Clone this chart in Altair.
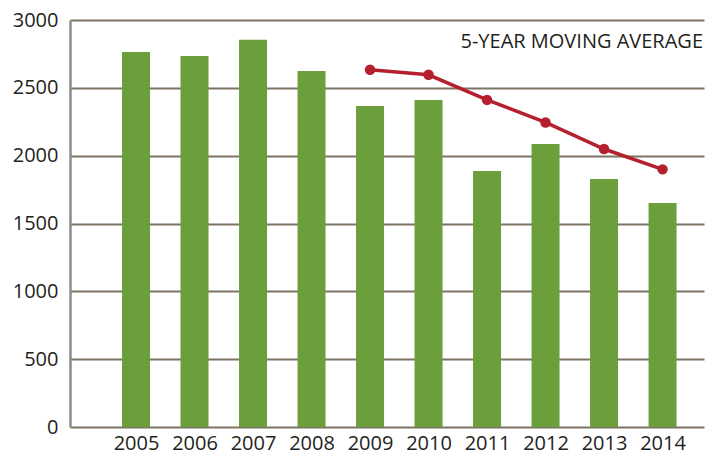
import altair as alt
import pandas as pd

years = [2005, 2006, 2007, 2008, 2009, 2010, 2011, 2012, 2013, 2014]
values = [2765, 2735, 2854, 2625, 2366, 2411, 1887, 2086, 1828, 1651]
ma_years = [2009, 2010, 2011, 2012, 2013, 2014]
ma_values = [2633, 2596, 2411, 2245, 2049, 1899]
y_ticks = [0, 500, 1000, 1500, 2000, 2500, 3000]

bars_df = pd.DataFrame({"year": years, "value": values})
ma_df = pd.DataFrame({"year": ma_years, "value": ma_values})

FONT = "Open Sans"
TEXT = "#231f20"

xscale = alt.Scale(domain=[2003.957, 2014.623], nice=False, zero=False)
yscale = alt.Scale(domain=[0, 3000], nice=False)

x_axis = alt.Axis(values=years, format="d", title=None, grid=False, ticks=False,
                  domain=False, labelFont=FONT, labelFontSize=20, labelColor=TEXT,
                  labelPadding=6, labelFlush=False, labelOverlap=False)
y_axis = alt.Axis(values=y_ticks, format="d", title=None, ticks=False, domain=True,
                  domainColor="#8c8c8c", domainWidth=2.5,
                  grid=True, gridColor="#7d7464", gridWidth=2,
                  labelFont=FONT, labelFontSize=20, labelColor=TEXT, labelPadding=12,
                  labelFlush=False)

bars = alt.Chart(bars_df).mark_bar(color="#6a9f3c", size=28).encode(
    x=alt.X("year:Q", scale=xscale, axis=x_axis),
    y=alt.Y("value:Q", scale=yscale, axis=y_axis),
)

line = alt.Chart(ma_df).mark_line(color="#b5202e", strokeWidth=3.5).encode(
    x=alt.X("year:Q", scale=xscale),
    y=alt.Y("value:Q", scale=yscale),
)
pts = alt.Chart(ma_df).mark_circle(color="#b5202e", size=110, opacity=1).encode(
    x=alt.X("year:Q", scale=xscale),
    y=alt.Y("value:Q", scale=yscale),
)

label = alt.Chart(pd.DataFrame({"t": ["5-YEAR MOVING AVERAGE"]})).mark_text(
    align="right", baseline="alphabetic", font=FONT, fontSize=20, color=TEXT
).encode(x=alt.value(633), y=alt.value(28), text="t:N")

chart = alt.layer(bars, line, pts, label).properties(
    width=634, height=407,
    autosize=alt.AutoSizeParams(type="none"),
    padding={"left": 62, "top": 12, "right": 3, "bottom": 31},
    background="white",
).configure_view(stroke=None)

chart.save("out.html", embed_options={"renderer": "svg", "actions": False})
